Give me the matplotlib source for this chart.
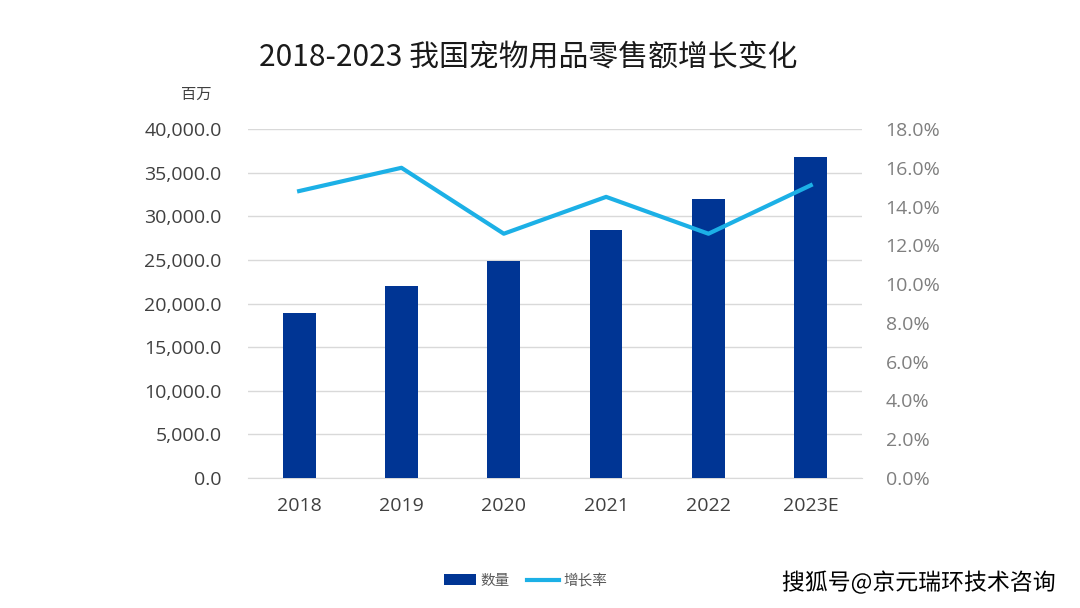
import matplotlib.pyplot as plt
import matplotlib.patheffects as pe
from matplotlib.ticker import FuncFormatter, MultipleLocator

plt.rcParams['font.family'] = ['Noto Sans CJK SC', 'DejaVu Sans']

years = ["2018", "2019", "2020", "2021", "2022", "2023E"]
sales = [18900, 22000, 24900, 28400, 32000, 36800]
growth = [14.8, 16.0, 12.6, 14.5, 12.6, 15.1]

bar_color = "#003594"
line_color = "#1cb0e6"

fig = plt.figure(figsize=(10.8, 6.08), dpi=100)
ax = fig.add_axes([0.2296, 0.2138, 0.5685, 0.574])
ax2 = ax.twinx()

x = range(len(years))
ax.bar(x, sales, width=0.32, color=bar_color, label="数量", zorder=3)
ax2.plot(x, growth, color=line_color, lw=3, label="增长率", zorder=4)

ax.set_xlim(-0.5, len(years) - 0.5)
ax.set_ylim(0, 40000)
ax2.set_ylim(0, 18)
ax.yaxis.set_major_locator(MultipleLocator(5000))
ax2.yaxis.set_major_locator(MultipleLocator(2))
ax.yaxis.set_major_formatter(FuncFormatter(lambda v, p: f"{v:,.1f}"))
ax2.yaxis.set_major_formatter(FuncFormatter(lambda v, p: f"{v:.1f}%"))
ax.set_xticks(list(x))
ax.set_xticklabels(years)

ax.grid(axis='y', color='#d9d9d9', lw=1, zorder=0)
for a in (ax, ax2):
    for s in a.spines.values():
        s.set_visible(False)
    a.tick_params(length=0)
ax.spines['bottom'].set_visible(True)
ax.spines['bottom'].set_color('#d9d9d9')
ax.tick_params(axis='y', pad=19, labelcolor='#404040')
ax2.tick_params(axis='y', pad=17, labelcolor='#7f7f7f')
ax.tick_params(axis='x', pad=14, labelcolor='#404040')
for lab in ax.get_yticklabels() + ax2.get_yticklabels() + ax.get_xticklabels():
    lab.set_family(['Open Sans', 'DejaVu Sans'])
    lab.set_fontsize(14)

fig.text(0.168, 0.838, "百万", fontsize=11, color='#404040')
fig.text(0.489, 0.905, "2018-2023 我国宠物用品零售额增长变化", fontsize=21.5,
         ha='center', va='center', color='#1a1a1a')

h1, l1 = ax.get_legend_handles_labels()
h2, l2 = ax2.get_legend_handles_labels()
fig.legend(h1 + h2, l1 + l2, loc='center', bbox_to_anchor=(0.487, 0.045), ncol=2,
           frameon=False, fontsize=10.5, handlelength=2.2, handletextpad=0.3,
           columnspacing=1.2, labelcolor='#595959')

fig.text(0.977, 0.042, "搜狐号@京元瑞环技术咨询", fontsize=16.5, ha='right', va='center',
         color='black', path_effects=[pe.withStroke(linewidth=2, foreground='white')])

fig.savefig("out.png", dpi=100, facecolor='white')
